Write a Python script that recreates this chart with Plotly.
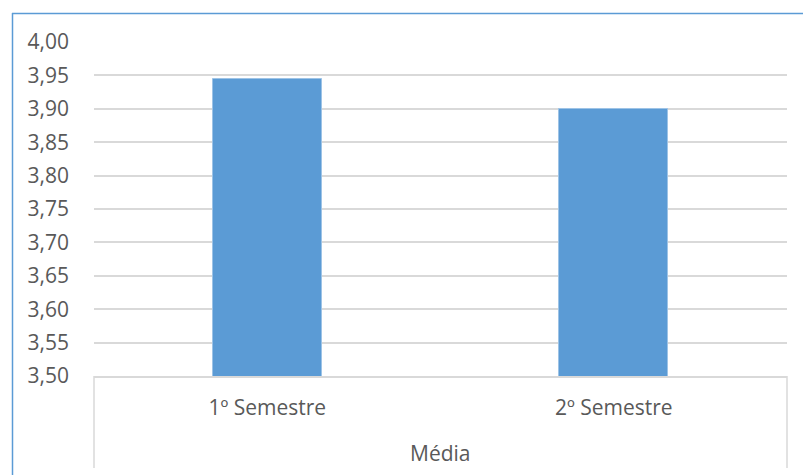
import plotly.graph_objects as go

categories = ["1º Semestre", "2º Semestre"]
values = [3.945, 3.90]
group_label = "Média"
y_ticks = [3.50, 3.55, 3.60, 3.65, 3.70, 3.75, 3.80, 3.85, 3.90, 3.95, 4.00]

W, H = 803, 475
L, R, T, B = 94, 787, 42, 376

def px(x):
    return (x - L) / (R - L)

def py(y):
    return (B - y) / (B - T)

text_color = "#595959"
grid_color = "#d9d9d9"
font_family = "Open Sans"
fs = 21

fig = go.Figure(
    go.Bar(
        x=categories,
        y=values,
        width=0.315,
        marker=dict(color="#5b9bd5", line=dict(color="#9dc3e6", width=1)),
    )
)

fig.update_layout(
    width=W,
    height=H,
    margin=dict(l=L, r=W - R, t=T, b=H - B),
    paper_bgcolor="white",
    plot_bgcolor="white",
    showlegend=False,
    separators=",.",
    font=dict(family=font_family, size=fs, color=text_color),
    bargap=0,
)

fig.update_yaxes(
    range=[3.5, 4.0],
    tickvals=y_ticks,
    tickformat=".2f",
    showgrid=True,
    gridcolor=grid_color,
    gridwidth=1.5,
    zeroline=False,
    showline=False,
    ticks="",
    ticklabelstandoff=24,
    tickfont=dict(size=fs, color=text_color),
)

fig.update_xaxes(
    showgrid=False,
    showline=True,
    linecolor=grid_color,
    linewidth=1.5,
    ticks="",
    ticklabelstandoff=12,
    tickfont=dict(size=fs, color=text_color),
)

shapes = [
    dict(type="line", xref="paper", yref="paper", x0=0, x1=0, y0=0, y1=py(468),
         line=dict(color=grid_color, width=1.5)),
    dict(type="line", xref="paper", yref="paper", x0=1, x1=1, y0=0, y1=py(468),
         line=dict(color=grid_color, width=1.5)),
    dict(type="line", xref="paper", yref="paper", x0=px(12.5), x1=px(12.5), y0=py(13), y1=py(480),
         line=dict(color="#5b9bd5", width=1.5)),
    dict(type="line", xref="paper", yref="paper", x0=px(12), x1=px(803), y0=py(13.5), y1=py(13.5),
         line=dict(color="#5b9bd5", width=1.5)),
]
fig.update_layout(shapes=shapes)

fig.add_annotation(
    text=group_label, xref="paper", yref="paper",
    x=0.5, y=py(453), xanchor="center", yanchor="middle",
    showarrow=False, font=dict(size=fs, color=text_color, family=font_family),
)

fig.write_html("out.html")
